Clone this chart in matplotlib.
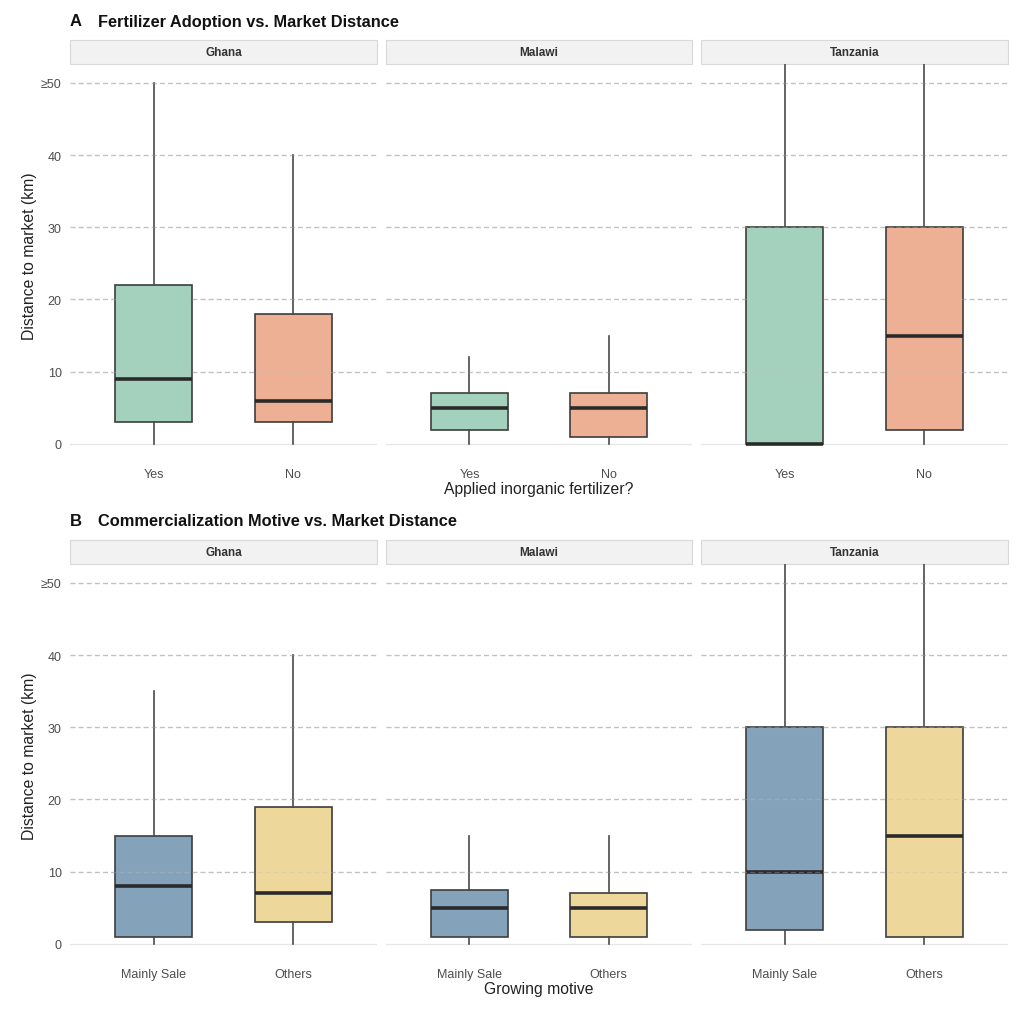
import matplotlib
matplotlib.use("Agg")
import matplotlib.pyplot as plt
from matplotlib.patches import Rectangle

plt.rcParams['font.family'] = ['Liberation Sans', 'DejaVu Sans']

# ---- data ----
countries = ["Ghana", "Malawi", "Tanzania"]
fert_groups = ["Yes", "No"]
motive_groups = ["Mainly Sale", "Others"]
ytick_vals = [0, 10, 20, 30, 40, 50]
ytick_labels = ["0", "10", "20", "30", "40", "\u226550"]

# per country: [group1, group2]
fert_whislo = [[0, 0], [0, 0], [0, 0]]
fert_q1 = [[3, 3], [2, 1], [0, 2]]
fert_med = [[9, 6], [5, 5], [0, 15]]
fert_q3 = [[22, 18], [7, 7], [30, 30]]
fert_whishi = [[50, 40], [12, 15], [60, 60]]

motive_whislo = [[0, 0], [0, 0], [0, 0]]
motive_q1 = [[1, 3], [1, 1], [2, 1]]
motive_med = [[8, 7], [5, 5], [10, 15]]
motive_q3 = [[15, 19], [7.5, 7], [30, 30]]
motive_whishi = [[35, 40], [15, 15], [60, 60]]

fert_colors = ["#A3D1BD", "#EEB094"]
motive_colors = ["#84A3BB", "#EDD79B"]

W, H = 1024, 1012
fig = plt.figure(figsize=(W / 100, H / 100), dpi=100)
fig.patch.set_facecolor("white")

panel_x = [(70, 377), (386, 692), (701, 1008)]


def px_axes(x0, y0, x1, y1):
    return fig.add_axes([x0 / W, 1 - y1 / H, (x1 - x0) / W, (y1 - y0) / H])


def draw_section(top, letter, title, groups, colors, whislo, q1, med, q3, whishi, xlabel):
    # top = pixel y of panel top
    bottom = top + 383
    fig.text(70 / W, 1 - (top - 43) / H, letter, fontsize=12, fontweight="bold",
             va="center", ha="left", color="#111111")
    fig.text(98 / W, 1 - (top - 43) / H, title, fontsize=11.8, fontweight="bold",
             va="center", ha="left", color="#111111")
    for i, (x0, x1) in enumerate(panel_x):
        ax = px_axes(x0, top, x1, bottom)
        stats = []
        for j in range(2):
            stats.append(dict(med=med[i][j], q1=q1[i][j], q3=q3[i][j],
                              whislo=whislo[i][j], whishi=whishi[i][j], fliers=[]))
        bp = ax.bxp(stats, positions=[1, 2], widths=0.55, patch_artist=True,
                    showcaps=False, showfliers=False,
                    boxprops=dict(edgecolor="#3d3d3d", linewidth=1.2),
                    medianprops=dict(color="#2a2a2a", linewidth=2.6, solid_capstyle="butt"),
                    whiskerprops=dict(color="#4a4a4a", linewidth=1.2))
        for patch, c in zip(bp["boxes"], colors):
            patch.set_facecolor(c)
        ax.set_xlim(0.4, 2.6)
        ax.set_ylim(-0.42, 52.6)
        for v in ytick_vals:
            if v == 0:
                ax.axhline(v, color="#E6E6E6", lw=0.9, zorder=0)
            else:
                # full-strength grid under the boxes, faint copy on top
                ax.axhline(v, color="#C4C4C4", lw=0.9, dashes=(4, 2.5), zorder=0)
                ax.axhline(v, color="#BDBDBD", lw=0.9, alpha=0.35,
                           dashes=(4, 2.5), zorder=5)
        for s in ax.spines.values():
            s.set_visible(False)
        ax.set_xticks([1, 2])
        ax.set_xticklabels(groups, fontsize=9, color="#4d4d4d")
        ax.set_yticks(ytick_vals)
        if i == 0:
            ax.set_yticklabels(ytick_labels, fontsize=9, color="#4d4d4d")
        else:
            ax.set_yticklabels([])
        ax.tick_params(axis="x", length=0, pad=15)
        ax.tick_params(axis="y", length=0, pad=6)
        # facet strip
        strip_h = 24 / 383
        ax.add_patch(Rectangle((0, 1.0), 1, strip_h, transform=ax.transAxes,
                               clip_on=False, facecolor="#F2F2F2",
                               edgecolor="#D9D9D9", linewidth=0.8))
        ax.text(0.5, 1 + strip_h / 2, countries[i], transform=ax.transAxes,
                ha="center", va="center", fontsize=8.5, fontweight="bold",
                color="#333333")
    fig.text(30 / W, 1 - (top + bottom) / 2 / H, "Distance to market (km)",
             rotation=90, ha="center", va="center", fontsize=11.3, color="#222222")
    fig.text(539 / W, 1 - (bottom + 42) / H, xlabel, ha="center", va="center",
             fontsize=11.3, color="#222222")


draw_section(65, "A", "Fertilizer Adoption vs. Market Distance", fert_groups, fert_colors,
             fert_whislo, fert_q1, fert_med, fert_q3, fert_whishi,
             "Applied inorganic fertilizer?")
draw_section(565, "B", "Commercialization Motive vs. Market Distance", motive_groups,
             motive_colors, motive_whislo, motive_q1, motive_med, motive_q3, motive_whishi,
             "Growing motive")

fig.savefig("out.png", dpi=100)
